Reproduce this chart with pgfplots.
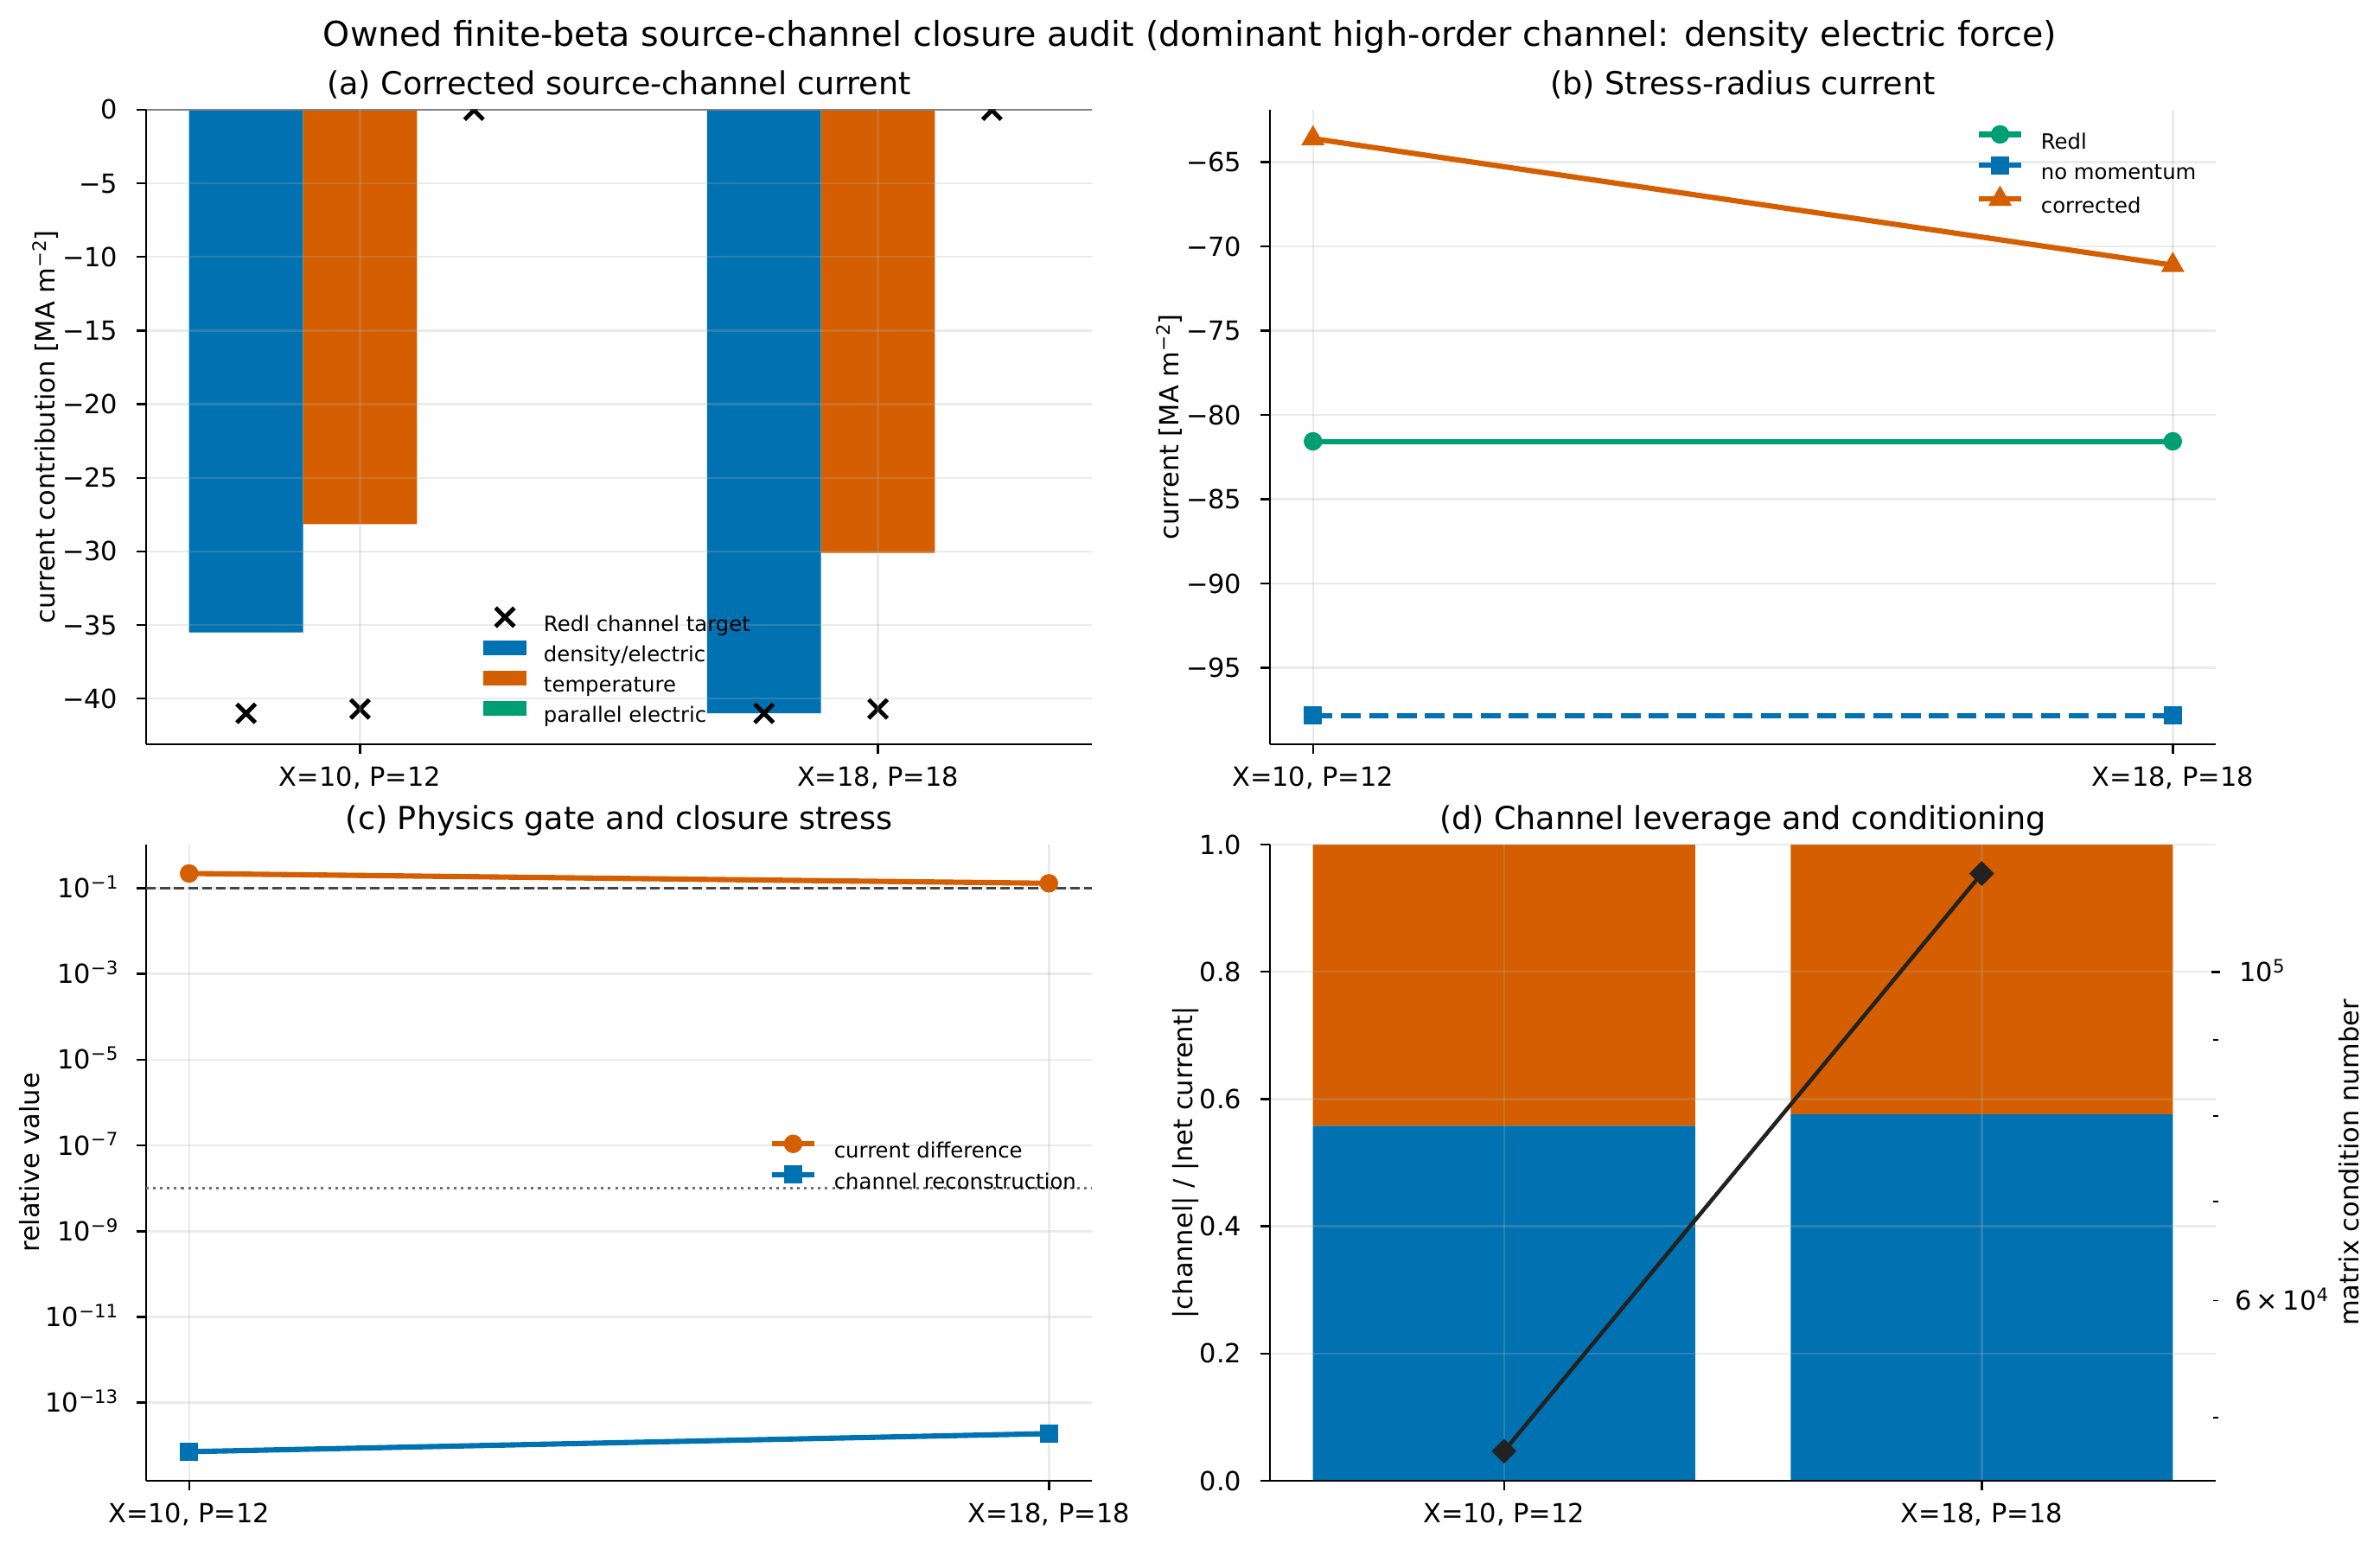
\documentclass[border=0pt]{standalone}
\usepackage{fontspec}
\setmainfont{DejaVu Sans}
\usepackage{pgfplots}
\pgfplotsset{compat=1.18}
\definecolor{cblue}{HTML}{0072B2}
\definecolor{corange}{HTML}{D55E00}
\definecolor{cgreen}{HTML}{009E73}
\definecolor{cdark}{HTML}{222222}
\definecolor{gridc}{RGB}{176,176,176}
\definecolor{dashc}{RGB}{68,68,68}
\definecolor{dotc}{RGB}{110,110,110}
\newcommand{\sups}[1]{\raisebox{3.3bp}{\fontsize{7}{8}\selectfont #1}}
\newcommand{\ften}{\fontsize{10}{12}\selectfont}
\newcommand{\ftw}{\fontsize{12}{14.4}\selectfont}
\newcommand{\fth}{\fontsize{13}{15.6}\selectfont}
\newcommand{\feight}{\fontsize{8}{9.6}\selectfont}
\pgfplotsset{
  base/.style={
    scale only axis, width=358.04bp,
    axis x line=bottom, axis y line=left,
    axis line style={-, line width=0.8bp, black},
    enlargelimits=false,
    tick align=outside,
    major tick length=3.5bp, minor tick length=2bp,
    every tick/.style={black, line width=0.8bp},
    every minor tick/.append style={line width=0.6bp},
    tick label style={font=\ften, inner sep=0pt},
    xticklabel style={anchor=north, yshift=-4.7bp},
    grid=major, major grid style={gridc, opacity=0.25, line width=0.8bp},
    title style={font=\ftw, at={(axis description cs:0.5,1)}, anchor=base, yshift=-0.4bp, inner sep=0pt},
    label style={font=\ften},
    legend style={draw=none, fill=none, font=\feight, inner sep=0pt, outer sep=0pt, row sep=0.8bp,
      nodes={inner sep=0pt, text height=7.5bp, text depth=2.5bp},
      /tikz/every odd column/.append style={column sep=6.5bp}},
    legend cell align=left,
    legend image code/.code={\draw[mark repeat=2,mark phase=2,##1] plot coordinates {(0bp,2.9bp) (8bp,2.9bp) (16bp,2.9bp)};},
  },
  ylabl/.style={yticklabel style={anchor=base east, xshift=-7bp, yshift=-3.6bp}},
  ylabr/.style={yticklabel style={anchor=base west, xshift=7bp, yshift=-3.6bp}},
  barleg/.style={legend image code/.code={\fill[##1, draw=none] (0bp,0.1bp) rectangle (16.4bp,5.7bp);}},
  crossleg/.style={legend image code/.code={\draw[##1] plot[only marks, mark=x, mark size=5bp] coordinates {(8.2bp,2.9bp)};}},
}
\begin{document}
\begin{tikzpicture}
\useasboundingbox (0,0) rectangle (900.98bp,584.18bp);
\node[font=\fth, anchor=base, inner sep=0pt] at (450.5bp,566.8bp) {Owned finite-beta source-channel closure audit (dominant high-order channel: density electric force)};

% (a)
\begin{axis}[base, ylabl, at={(55.31bp,302.40bp)}, anchor=south west, height=240.22bp,
  xmin=-0.413, xmax=1.413, ymin=-43.1, ymax=0,
  xtick={0,1}, xticklabels={{X=10, P=12},{X=18, P=18}},
  ytick={-40,-35,-30,-25,-20,-15,-10,-5,0},
  yticklabels={−40,−35,−30,−25,−20,−15,−10,−5,0},
  ylabel={current contribution [MA m\sups{−2}]},
  ylabel style={at={(axis description cs:-0.106,0.5)}, anchor=center},
  title={(a) Corrected source-channel current},
  axis on top, clip marker paths=true,
  legend style={at={(axis description cs:0.3565,0.2150)}, anchor=north west}]
\addlegendimage{crossleg, black, line width=1.6bp}
\addlegendentry{Redl channel target}
\addlegendimage{barleg, fill=cblue}
\addlegendentry{density/electric}
\addlegendimage{barleg, fill=corange}
\addlegendentry{temperature}
\addlegendimage{barleg, fill=cgreen}
\addlegendentry{parallel electric}
\addplot[ybar, bar width=0.22, bar shift=-0.22, fill=cblue, draw=none, forget plot] coordinates {(0,-35.5) (1,-41.0)};
\addplot[ybar, bar width=0.22, bar shift=0, fill=corange, draw=none, forget plot] coordinates {(0,-28.15) (1,-30.1)};
\addplot[ybar, bar width=0.22, bar shift=0.22, fill=cgreen, draw=none, forget plot] coordinates {(0,0) (1,0)};
\addplot[black!55, line width=0.8bp, forget plot] coordinates {(-0.413,0) (1.413,0)};
\addplot[only marks, mark=x, mark size=5bp, black, line width=1.6bp, forget plot] coordinates {(-0.22,-41.0) (0,-40.7) (0.22,-0.03) (0.78,-41.0) (1,-40.7) (1.22,-0.03)};
\end{axis}

% (b)
\begin{axis}[base, ylabl, at={(480.76bp,302.40bp)}, anchor=south west, height=240.22bp,
  xmin=-0.05, xmax=1.05, ymin=-99.53, ymax=-61.89,
  xtick={0,1}, xticklabels={{X=10, P=12},{X=18, P=18}},
  ytick={-95,-90,-85,-80,-75,-70,-65},
  yticklabels={−95,−90,−85,−80,−75,−70,−65},
  ylabel={current [MA m\sups{−2}]},
  ylabel style={at={(axis description cs:-0.106,0.5)}, anchor=center},
  title={(b) Stress-radius current},
  legend style={at={(axis description cs:0.7468,0.9736)}, anchor=north west}]
\addplot[cgreen, line width=2bp, mark=*, mark size=3bp, mark options={solid, line width=1bp}] coordinates {(0,-81.56) (1,-81.56)};
\addlegendentry{Redl}
\addplot[cblue, line width=2bp, dash pattern=on 7.4bp off 3.2bp, mark=square*, mark size=2.95bp, mark options={solid, line width=1bp}] coordinates {(0,-97.82) (1,-97.82)};
\addlegendentry{no momentum}
\addplot[corange, line width=2bp, mark=triangle*, mark size=4.1bp, mark options={solid, line width=1bp}] coordinates {(0,-63.6) (1,-71.11)};
\addlegendentry{corrected}
\end{axis}

% (c)
\begin{axis}[base, ylabl, at={(55.31bp,23.56bp)}, anchor=south west, height=240.87bp,
  xmin=-0.05, xmax=1.05, ymode=log, ymin=1.51e-15, ymax=1.04,
  xtick={0,1}, xticklabels={{X=10, P=12},{X=18, P=18}},
  ytick={1e-13,1e-11,1e-9,1e-7,1e-5,1e-3,1e-1},
  yticklabels={10\sups{−13},10\sups{−11},10\sups{−9},10\sups{−7},10\sups{−5},10\sups{−3},10\sups{−1}},
  minor tick length=0bp,
  ylabel={relative value},
  ylabel style={at={(axis description cs:-0.123,0.5)}, anchor=center},
  title={(c) Physics gate and closure stress},
  legend style={at={(axis description cs:0.659,0.542)}, anchor=north west}]
\addplot[dashc, line width=1bp, dash pattern=on 3.7bp off 1.6bp, forget plot] coordinates {(-0.05,0.1) (1.05,0.1)};
\addplot[dotc, line width=1bp, dash pattern=on 1bp off 1.65bp, forget plot] coordinates {(-0.05,1e-8) (1.05,1e-8)};
\addplot[corange, line width=2bp, mark=*, mark size=3bp, mark options={solid, line width=1bp}] coordinates {(0,0.22) (1,0.13)};
\addlegendentry{current difference}
\addplot[cblue, line width=2bp, mark=square*, mark size=2.95bp, mark options={solid, line width=1bp}] coordinates {(0,7.2e-15) (1,1.9e-14)};
\addlegendentry{channel reconstruction}
\end{axis}

% (d)
\begin{axis}[base, ylabl, at={(480.76bp,23.56bp)}, anchor=south west, height=240.87bp,
  xmin=-0.49, xmax=1.49, ymin=0, ymax=1,
  xtick={0,1}, xticklabels={{X=10, P=12},{X=18, P=18}},
  ytick={0,0.2,0.4,0.6,0.8,1.0},
  yticklabels={0.0,0.2,0.4,0.6,0.8,1.0},
  ylabel={|channel| / |net current|},
  ylabel style={at={(axis description cs:-0.0896,0.5)}, anchor=center},
  title={(d) Channel leverage and conditioning},
  ybar stacked, bar width=0.8, axis on top]
\addplot[fill=cblue, draw=none] coordinates {(0,0.558) (1,0.576)};
\addplot[fill=corange, draw=none] coordinates {(0,0.442) (1,0.424)};
\end{axis}
\begin{axis}[base, ylabr, at={(480.76bp,23.56bp)}, anchor=south west, height=240.87bp,
  xmin=-0.49, xmax=1.49, ymode=log, ymin=4.533e4, ymax=1.22e5,
  axis x line=none, axis y line=right, y axis line style={draw=none}, grid=none,
  ytick={1e5}, yticklabels={10\sups{5}},
  minor ytick={5e4,6e4,7e4,8e4,9e4},
  extra y ticks={6e4}, extra y tick labels={6\kern1.8bp×\kern1.8bp10\sups{4}},
  extra y tick style={major tick length=0bp},
  ylabel={matrix condition number},
  ylabel style={at={(axis description cs:1.1408,0.5)}, anchor=center}]
\addplot[cdark, line width=1.5bp, mark=square*, mark size=2.85bp, mark options={rotate=45, line width=1bp}] coordinates {(0,4.746e4) (1,1.166e5)};
\end{axis}
\end{tikzpicture}
\end{document}
